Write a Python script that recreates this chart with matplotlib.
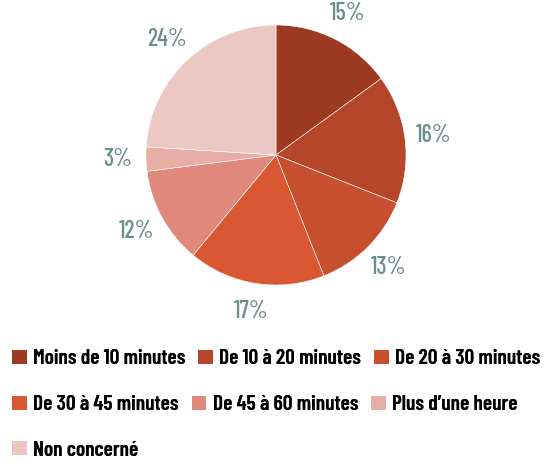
import matplotlib
matplotlib.use("Agg")
import matplotlib.pyplot as plt
from matplotlib.patches import Patch

categories = ["Moins de 10 minutes", "De 10 à 20 minutes", "De 20 à 30 minutes",
              "De 30 à 45 minutes", "De 45 à 60 minutes", "Plus d\u2019une heure",
              "Non concerné"]
values = [15, 16, 13, 17, 12, 3, 24]
colors = ["#9C3A22", "#B5462A", "#C54F2F", "#DA5733", "#E0887B", "#E8ADA5", "#EDC7C3"]

FONT = ["Barlow Condensed", "DejaVu Sans"]

fig = plt.figure(figsize=(5.46, 4.62), dpi=100)
ax = fig.add_axes([146/546, 177/462, 260/546, 260/462])
wedges, texts, autotexts = ax.pie(
    values, colors=colors, startangle=90, counterclock=False,
    autopct=lambda p: f"{p:.0f}%", pctdistance=1.22,
    wedgeprops=dict(edgecolor="white", linewidth=0.4),
    textprops=dict(color="#6B8E8C", fontsize=17.5, family=FONT, weight=500))
ax.set_aspect("equal")
ax.set_xlim(-1, 1)
ax.set_ylim(-1, 1)

rows = [[0, 1, 2], [3, 4, 5], [6]]
ys = [359, 405, 450]
for row, y in zip(rows, ys):
    handles = [Patch(facecolor=colors[i], edgecolor="none") for i in row]
    labels = [categories[i] for i in row]
    leg = fig.legend(handles, labels, ncol=len(row), loc="center left",
                     bbox_to_anchor=(12/546, 1 - y/462), frameon=False,
                     borderpad=0, borderaxespad=0, handlelength=0.68,
                     handleheight=0.68, handletextpad=0.3, columnspacing=0.6,
                     prop=dict(family=FONT, weight=600, size=15.5))
    fig.add_artist(leg)

fig.savefig("out.png", dpi=100)
